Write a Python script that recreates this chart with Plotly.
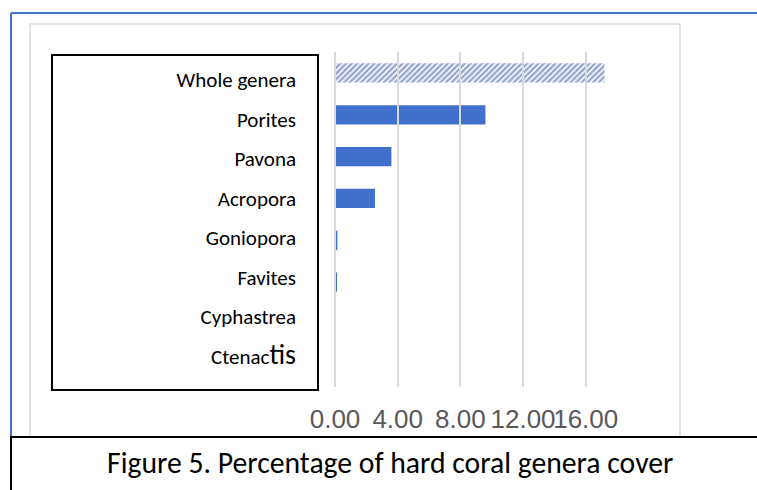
import plotly.graph_objects as go

# Hard coral genera cover (%)
genera = ["Whole genera", "Porites", "Pavona", "Acropora",
          "Goniopora", "Favites", "Cyphastrea", "Ctenactis"]
cover = [17.2, 9.6, 3.6, 2.55, 0.15, 0.1, 0.02, 0.01]
label_text = ["Whole genera", "Porites", "Pavona", "Acropora",
              "Goniopora", "Favites", "Cyphastrea",
              "Ctenac<span style='font-size:28px'>tis</span>"]
x_ticks = [0, 4, 8, 12, 16]
caption = "Figure 5. Percentage of hard coral genera cover"

W, H = 757, 490
BLUE = "#4472C4"
GRID = "#d9d9d9"


def px(x):
    return x / W


def py(y):
    return 1 - y / H


def frame(kind, x0, y0, x1, y1, **kw):
    return dict(type=kind, xref="paper", yref="paper",
                x0=px(x0), x1=px(x1), y0=py(y0), y1=py(y1), **kw)


fig = go.Figure()

# aggregate bar, hatched
fig.add_trace(go.Bar(
    y=genera[:1], x=cover[:1], orientation="h",
    marker=dict(color="white", line=dict(width=0),
                pattern=dict(shape="/", fgcolor="#2B4A9E", bgcolor="white",
                             size=4, solidity=0.6)),
    hoverinfo="x+y", showlegend=False,
))
# individual genera
fig.add_trace(go.Bar(
    y=genera[1:], x=cover[1:], orientation="h",
    marker=dict(color="#4170CC", line=dict(width=0)),
    hoverinfo="x+y", showlegend=False,
))
# invisible trace carrying the category labels on a second axis
fig.add_trace(go.Bar(
    y=label_text, x=[0] * len(label_text), orientation="h",
    yaxis="y2", marker=dict(opacity=0), hoverinfo="skip", showlegend=False,
))

shapes = [
    # outer blue frame (top and left edges)
    frame("line", 11, 13, 760, 13, line=dict(color=BLUE, width=2)),
    frame("line", 11, 13, 11, 437, line=dict(color=BLUE, width=2)),
    # chart area border
    frame("rect", 30, 24, 680, 480, line=dict(color=GRID, width=1.5),
          layer="below"),
    # label box
    frame("rect", 52, 55, 318, 390, line=dict(color="black", width=2),
          fillcolor="white", layer="below"),
    # caption box
    frame("rect", 11, 437, 770, 500, line=dict(color="black", width=2),
          fillcolor="white", layer="above"),
]

fig.update_layout(
    width=W, height=H,
    margin=dict(l=0, r=0, t=0, b=0, autoexpand=False),
    paper_bgcolor="white", plot_bgcolor="rgba(0,0,0,0)",
    barmode="overlay", bargap=0.54,
    xaxis=dict(
        domain=[px(335), px(335 + 17.6 * 15.67)], range=[0, 17.6],
        tickvals=x_ticks, tickformat=".2f", tickangle=0, automargin=False,
        showgrid=True, gridcolor=GRID, gridwidth=1.5,
        zeroline=True, zerolinecolor=GRID, zerolinewidth=1.5,
        showline=False, ticks="", ticklabelstandoff=14,
        tickfont=dict(family="Liberation Sans Narrow, Liberation Sans, Arial",
                      size=26, color="#595959"),
        fixedrange=True,
    ),
    yaxis=dict(
        domain=[py(386.7), py(52)], autorange="reversed", automargin=False,
        type="category", showgrid=False, showticklabels=False,
        zeroline=False, showline=False, fixedrange=True,
    ),
    yaxis2=dict(
        domain=[py(376), py(60.4)], autorange="reversed", anchor="x",
        type="category", showgrid=False, showline=False, zeroline=False,
        ticks="", ticklabelstandoff=38, automargin=False,
        tickfont=dict(family="Carlito, Lato, Open Sans", size=21, color="black"),
        fixedrange=True,
    ),
    shapes=shapes,
    annotations=[dict(
        text=caption, x=px(390), y=py(463), xref="paper", yref="paper",
        showarrow=False, xanchor="center", yanchor="middle",
        font=dict(family="Carlito, Lato, Open Sans", size=29.7, color="black"),
    )],
)

fig.write_html("out.html")
